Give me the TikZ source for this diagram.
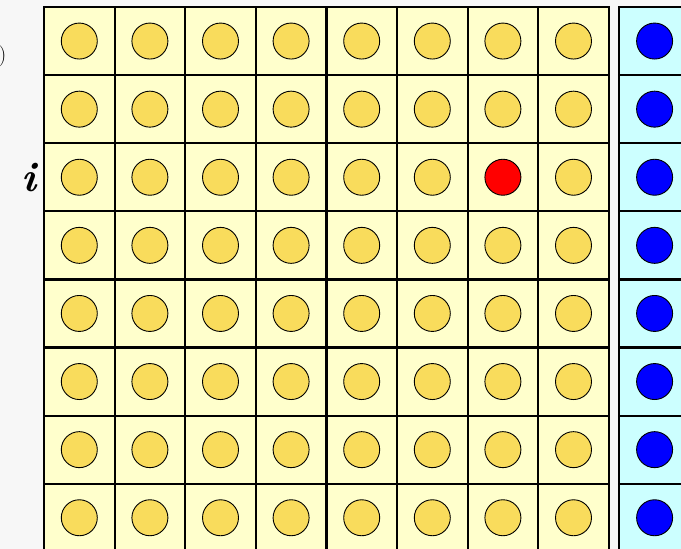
\documentclass[tikz,border=0pt]{standalone}
\definecolor{bg}{HTML}{F7F7F7}
\definecolor{ycellfill}{HTML}{FFFFCC}
\definecolor{ydotfill}{HTML}{F9DC5C}
\definecolor{ccellfill}{HTML}{CCFFFF}
\definecolor{bdot}{HTML}{0000FF}
\definecolor{rdotfill}{HTML}{FF0000}
\begin{document}
\begin{tikzpicture}[x=1pt,y=-1pt,
  cellbox/.style={draw=black, line width=2.2pt, minimum width=70.6pt, minimum height=68.1pt, inner sep=0pt, outer sep=0pt},
  ycell/.style={cellbox, fill=ycellfill},
  ccell/.style={cellbox, fill=ccellfill},
  dotbase/.style={circle, draw=black, line width=0.9pt, minimum size=36pt, inner sep=0pt},
  ydot/.style={dotbase, fill=ydotfill},
  rdot/.style={dotbase, fill=rdotfill},
  cdot/.style={dotbase, fill=bdot}]
\fill[bg] (0,0) rectangle (681,549);
\useasboundingbox (0,0) rectangle (681,549);
\foreach \r in {0,...,7} {
  \foreach \c in {0,...,7} {
    \ifnum\r\c=26 \def\ds{rdot}\else\def\ds{ydot}\fi
    \node[ycell] (c-\r-\c) at ({44+70.6*(\c+0.5)},{7+68.1*(\r+0.5)}) {};
    \node[\ds] (d-\r-\c) at (c-\r-\c) {};
  }
  \node[ccell] (k-\r) at ({619.3+35.3},{7+68.1*(\r+0.5)}) {};
  \node[cdot] (kd-\r) at (k-\r) {};
}
\node[font=\fontsize{42}{44}\selectfont\bfseries\itshape, inner sep=0pt] (ilab) at (28.5,178) {i};
\node[font=\fontsize{21}{23}\selectfont, text=black, anchor=east, inner sep=0pt] (plab) at (6.5,56) {)};
\end{tikzpicture}
\end{document}
